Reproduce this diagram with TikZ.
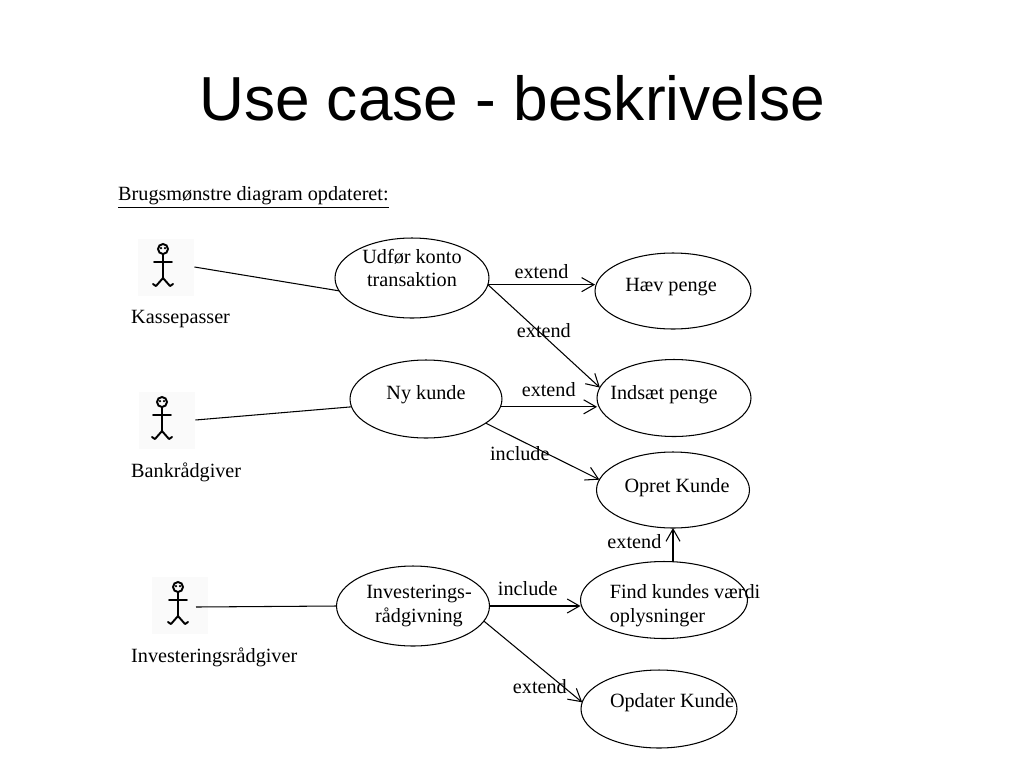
\documentclass[tikz,border=0pt]{standalone}
\usepackage{fontspec}
\setmainfont{Liberation Serif}
\newfontfamily\titlefont{Liberation Sans}
\usetikzlibrary{arrows.meta,shapes.geometric,calc}

\tikzset{
  every node/.style={font=\fontsize{11.5}{13.6}\selectfont},
  uc/.style={draw, ellipse, line width=0.6pt, inner sep=0pt, outer sep=0pt},
  link/.style={line width=0.6pt},
  ext/.style={line width=0.6pt, -{Straight Barb[length=7pt,width=8pt]}},
  actorbox/.style={fill=black!2, minimum width=1.14cm, minimum height=1.14cm, inner sep=0pt, outer sep=0pt},
  actor/.pic={
    \draw[line width=1.1pt] (0,-17) circle[radius=0.1cm];
    \fill (-2,-18) circle[radius=0.025cm] (2,-18) circle[radius=0.025cm];
    \draw[line width=1.1pt, line cap=round, line join=round] (0,-12) -- (0,12)
      (-9,-4) -- (9,-4)
      (-10,18) -- (-7,20) -- (0,12) -- (7,20) -- (10,18);
  }
}

\begin{document}
\begin{tikzpicture}[x=0.02cm, y=-0.02cm]
\useasboundingbox[fill=white] (0,0) rectangle (1024,768);

\node[font=\titlefont\fontsize{35.4}{40}\selectfont] (title) at (512,98) {Use case - beskrivelse};
\node[anchor=west] (head) at (112,197) {\underline{Brugsmønstre diagram opdateret:}};

% actors
\node[actorbox] (kasse) at (166,267) {};
\pic at (163,266) {actor};
\node[anchor=west] (kassename) at (125,319) {Kassepasser};

\node[actorbox] (bank) at (167,420) {};
\pic at (162,419) {actor};
\node[anchor=west] (bankname) at (125,472) {Bankrådgiver};

\node[actorbox] (invactor) at (180,605) {};
\pic at (178,604) {actor};
\coordinate (invhand) at (196,607);
\node[anchor=west] (invname) at (125,657) {Investeringsrådgiver};

% use cases
\node[uc, minimum width=3.08cm, minimum height=1.6cm,
  label={[align=center, shift={(0,-10)}]center:Udfør konto\\transaktion}] (uk) at (412,278) {};
\node[uc, minimum width=3.12cm, minimum height=1.52cm,
  label={[shift={(-2,-4)}]center:Hæv penge}] (haev) at (673,291) {};
\node[uc, minimum width=3.04cm, minimum height=1.56cm,
  label={[shift={(0,-4)}]center:Ny kunde}] (ny) at (426,399) {};
\node[uc, minimum width=3.08cm, minimum height=1.54cm,
  label={[shift={(-10,-3)}]center:Indsæt penge}] (indsaet) at (674,398) {};
\node[uc, minimum width=3.06cm, minimum height=1.52cm,
  label={[shift={(4,-2)}]center:Opret Kunde}] (opret) at (673,490) {};
\node[uc, minimum width=3.34cm, minimum height=1.54cm,
  label={[align=left, shift={(21,6)}]center:Find kundes værdi\\oplysninger}] (find) at (664,600) {};
\node[uc, minimum width=3.06cm, minimum height=1.6cm,
  label={[align=center, shift={(6,0)}]center:Investerings-\\rådgivning}] (inv) at (413,606) {};
\node[uc, minimum width=3.12cm, minimum height=1.56cm,
  label={[shift={(13,-6)}]center:Opdater Kunde}] (opdater) at (659,709) {};

% actor links
\draw[link] (kasse.east) -- (uk.190);
\draw[link] (bank.east) -- (ny.186);
\draw[link] (invhand) -- (inv.west);

% extend / include
\draw[ext] (uk.-5) -- (uk.-5 -| haev.west) node[pos=0.5, above] {extend};
\draw[ext] (uk.-5) -- (indsaet.172) node[pos=0.5, yshift=3pt] {extend};
\draw[ext] (ny.-6) -- (ny.-6 -| indsaet.west) node[pos=0.5, above=2pt] {extend};
\draw[ext] (ny.-22) -- (opret.172) node[pos=0.3, below] {include};
\draw[ext] (find.north -| opret.south) -- (opret.south) node[pos=0.6, left=3pt] {extend};
\draw[ext] (inv.east) -- (inv.east -| find.west) node[pos=0.42, above=2pt] {include};
\draw[ext] (inv.-12) -- (opdater.175) node[pos=0.57, below=3pt] {extend};
\end{tikzpicture}
\end{document}
